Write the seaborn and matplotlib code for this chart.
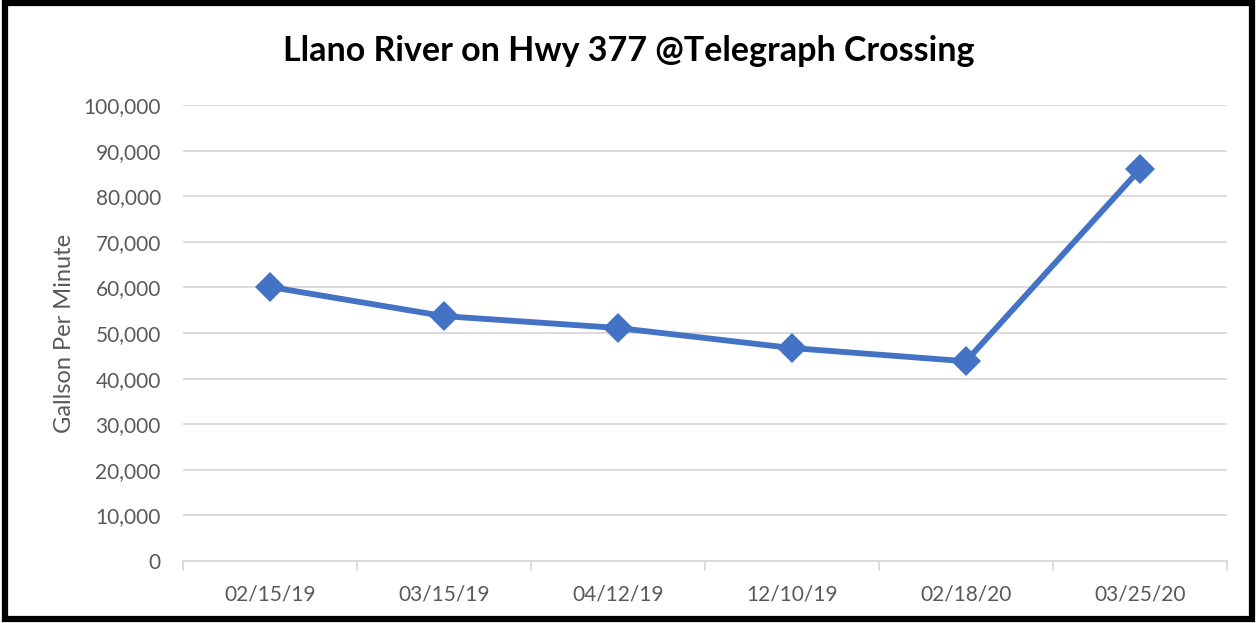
import matplotlib
matplotlib.use("Agg")
import matplotlib.pyplot as plt
from matplotlib.patches import Rectangle
from matplotlib.ticker import FuncFormatter, FixedLocator
import pandas as pd
import seaborn as sns

# dados
datas = ["02/15/19", "03/15/19", "04/12/19", "12/10/19", "02/18/20", "03/25/20"]
vazao = [60100, 53700, 51100, 46700, 43800, 85900]

df = pd.DataFrame({"data": datas, "vazao": vazao})

sns.set_theme(style="white")
plt.rcParams["font.family"] = ["Lato", "DejaVu Sans"]

fig = plt.figure(figsize=(12.57, 6.23), dpi=100)
ax = fig.add_axes([183 / 1257, 1 - 561 / 623, (1227 - 183) / 1257, (561 - 105) / 623])

sns.lineplot(data=df, x="data", y="vazao", sort=False, color="#4472C4",
             linewidth=4.2, marker="D", markersize=15, markeredgewidth=0, ax=ax)

ax.set_xlim(-0.5, len(datas) - 0.5)
ax.set_ylim(0, 100000)
ax.set_yticks(range(0, 100001, 10000))
ax.yaxis.set_major_formatter(FuncFormatter(lambda v, p: f"{int(v):,}"))
ax.grid(axis="y", color="#D9D9D9", linewidth=1.3)
ax.set_axisbelow(True)

# marcas entre as categorias
ax.xaxis.set_minor_locator(FixedLocator([i - 0.5 for i in range(len(datas) + 1)]))
ax.tick_params(axis="x", which="minor", length=7, width=1.3, color="#D9D9D9", bottom=True)
ax.tick_params(axis="x", which="major", length=0, pad=17, labelsize=15, labelcolor="#595959")
ax.tick_params(axis="y", length=0, pad=16, labelsize=15, labelcolor="#595959")

for lado in ["left", "right", "top"]:
    ax.spines[lado].set_visible(False)
ax.spines["bottom"].set_color("#D9D9D9")
ax.spines["bottom"].set_linewidth(1.3)

ax.set_xlabel("")
ax.set_ylabel("Gallson Per Minute", fontsize=17, color="#595959", labelpad=6)

fig.text(0.5, 1 - 51 / 623, "Llano River on Hwy 377 @Telegraph Crossing",
         ha="center", va="center", fontsize=24.5, fontweight="bold", color="black")

# moldura preta
fig.add_artist(Rectangle((0.004, 0.006), 0.992, 0.989, transform=fig.transFigure,
                         fill=False, edgecolor="black", linewidth=4.5))

fig.savefig("out.png", dpi=100)
